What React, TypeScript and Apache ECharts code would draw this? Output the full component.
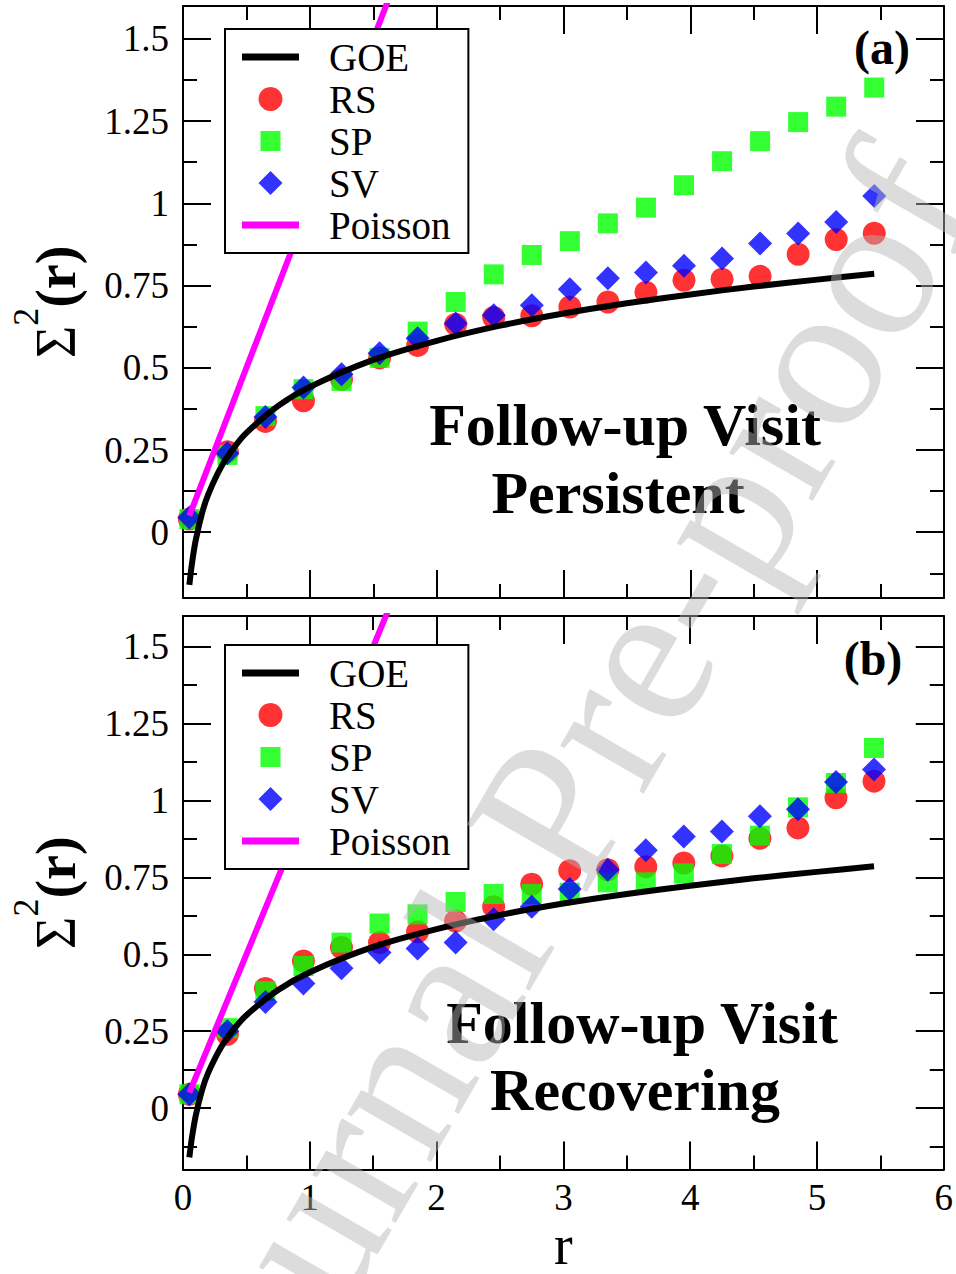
import React, { useEffect, useRef } from 'react';
import * as echarts from 'echarts';

const FONT = '"Liberation Serif", "Times New Roman", serif';

// r positions of the measured points
const rValues = [0.05, 0.35, 0.65, 0.95, 1.25, 1.55, 1.85, 2.15, 2.45, 2.75, 3.05, 3.35, 3.65, 3.95, 4.25, 4.55, 4.85, 5.15, 5.45];

// panel (a) Persistent
const rsPersistent = [0.04, 0.245, 0.337, 0.40, 0.465, 0.53, 0.568, 0.632, 0.653, 0.658, 0.685, 0.70, 0.73, 0.766, 0.769, 0.778, 0.845, 0.89, 0.909];
const spPersistent = [0.04, 0.235, 0.353, 0.435, 0.46, 0.53, 0.61, 0.70, 0.784, 0.843, 0.885, 0.939, 0.987, 1.055, 1.128, 1.189, 1.247, 1.294, 1.352];
const svPersistent = [0.045, 0.24, 0.35, 0.44, 0.48, 0.544, 0.59, 0.635, 0.66, 0.69, 0.739, 0.772, 0.79, 0.81, 0.832, 0.878, 0.908, 0.943, 1.022];

// panel (b) Recovering
const rsRecovering = [0.045, 0.24, 0.389, 0.478, 0.522, 0.538, 0.573, 0.608, 0.655, 0.728, 0.772, 0.775, 0.785, 0.797, 0.82, 0.877, 0.911, 1.009, 1.063];
const spRecovering = [0.045, 0.26, 0.38, 0.462, 0.538, 0.60, 0.63, 0.67, 0.696, 0.696, 0.70, 0.734, 0.734, 0.763, 0.826, 0.886, 0.978, 1.057, 1.171];
const svRecovering = [0.045, 0.25, 0.345, 0.405, 0.455, 0.506, 0.519, 0.538, 0.614, 0.655, 0.712, 0.775, 0.838, 0.883, 0.899, 0.949, 0.972, 1.06, 1.101];

// GOE reference curve
const goeR = [0.05, 0.07, 0.1, 0.15, 0.2, 0.3, 0.4, 0.5, 0.75, 1, 1.5, 2, 2.5, 3, 3.5, 4, 4.5, 5, 5.45];
const goeValues = [-0.16, -0.097, -0.025, 0.058, 0.116, 0.198, 0.256, 0.302, 0.384, 0.442, 0.524, 0.582, 0.628, 0.665, 0.696, 0.723, 0.747, 0.768, 0.786];

// Poisson reference line
const poissonR = [0.05, 1.8];
const poissonValues = [0.05, 1.8];

const yTickValues = [0, 0.25, 0.5, 0.75, 1, 1.25, 1.5];
const yMinorTickValues = [-0.125, 0.125, 0.375, 0.625, 0.875, 1.125, 1.375];
const legendNames = ['GOE', 'RS', 'SP', 'SV', 'Poisson'];
const panelLabels = ['(a)', '(b)'];
const panelTitles = [['Follow-up Visit', 'Persistent'], ['Follow-up Visit', 'Recovering']];

const LINE_ICON = 'path://M0,0h57v7h-57z';
const legendIcons: Record<string, string> = {
  GOE: LINE_ICON,
  RS: 'circle',
  SP: 'path://M0,0M24,24M2,2h20v20h-20z',
  SV: 'path://M12,0L24,12L12,24L0,12Z',
  Poisson: LINE_ICON,
};

const pairs = (xs: number[], ys: number[]) => xs.map((x, i) => [x, ys[i]]);

const lineStyleBlack = { color: '#000', width: 2 };

function buildXAxes(gridIndex: number, showLabels: boolean) {
  const base: any = {
    type: 'value',
    gridIndex,
    min: 0,
    max: 6,
    interval: 1,
    axisLine: { show: true, onZero: false, lineStyle: lineStyleBlack },
    axisTick: { show: true, inside: true, length: 28, lineStyle: lineStyleBlack },
    minorTick: { show: true, splitNumber: 2, length: 14, lineStyle: lineStyleBlack },
    splitLine: { show: false },
    minorSplitLine: { show: false },
  };
  return [
    {
      ...base,
      position: 'bottom',
      axisLabel: {
        show: showLabels,
        fontFamily: FONT,
        fontSize: 37,
        lineHeight: 30,
        color: '#000',
        margin: 13,
        showMinLabel: true,
        showMaxLabel: true,
      },
      name: showLabels ? 'r' : '',
      nameLocation: 'middle',
      nameGap: 46,
      nameTextStyle: { fontFamily: FONT, fontSize: 56, lineHeight: 34, color: '#000' },
    },
    { ...base, position: 'top', axisLabel: { show: false } },
  ];
}

function buildYAxes(gridIndex: number) {
  const base: any = {
    type: 'value',
    gridIndex,
    min: -0.2,
    max: 1.6,
    splitLine: { show: false },
  };
  const major = (position: string, labels: boolean) => ({
    ...base,
    position,
    axisLine: { show: true, onZero: false, lineStyle: lineStyleBlack },
    axisTick: { show: true, inside: true, length: 28, customValues: yTickValues, lineStyle: lineStyleBlack },
    axisLabel: {
      show: labels,
      customValues: yTickValues,
      fontFamily: FONT,
      fontSize: 37,
      color: '#000',
      margin: 14,
    },
  });
  const minor = (position: string) => ({
    ...base,
    position,
    axisLine: { show: false, onZero: false },
    axisTick: { show: true, inside: true, length: 14, customValues: yMinorTickValues, lineStyle: lineStyleBlack },
    axisLabel: { show: false, customValues: yMinorTickValues },
  });
  const left: any = major('left', true);
  left.name = '{s|Σ}{p|2}{r|(r)}';
  left.nameLocation = 'middle';
  left.nameRotate = 90;
  left.nameGap = 79;
  left.nameTextStyle = {
    rich: {
      s: { fontFamily: FONT, fontSize: 56, lineHeight: 96, color: '#000' },
      p: { fontFamily: FONT, fontSize: 36, lineHeight: 36, verticalAlign: 'top', color: '#000' },
      r: { fontFamily: FONT, fontSize: 56, fontWeight: 'bold', lineHeight: 96, color: '#000' },
    },
  };
  return [left, minor('left'), major('right', false), minor('right')];
}

function buildSeries(gi: number, rs: number[], sp: number[], sv: number[]) {
  const xAxisIndex = gi * 2;
  const yAxisIndex = gi * 4;
  return [
    {
      type: 'line', name: 'GOE', xAxisIndex, yAxisIndex,
      data: pairs(goeR, goeValues), symbol: 'none', smooth: 0.3,
      lineStyle: { color: '#000', width: 6 }, itemStyle: { color: '#000' },
    },
    {
      type: 'scatter', name: 'RS', xAxisIndex, yAxisIndex,
      data: pairs(rValues, rs), symbol: 'circle', symbolSize: 23,
      itemStyle: { color: '#ff0000' },
    },
    {
      type: 'scatter', name: 'SP', xAxisIndex, yAxisIndex,
      data: pairs(rValues, sp), symbol: 'rect', symbolSize: 20,
      itemStyle: { color: '#00ff00' },
    },
    {
      type: 'scatter', name: 'SV', xAxisIndex, yAxisIndex,
      data: pairs(rValues, sv), symbol: 'diamond', symbolSize: 24,
      itemStyle: { color: '#0000ff' },
    },
    {
      type: 'line', name: 'Poisson', xAxisIndex, yAxisIndex,
      data: pairs(poissonR, poissonValues), symbol: 'none',
      lineStyle: { color: '#ff00ff', width: 6 }, itemStyle: { color: '#ff00ff' },
    },
  ];
}

function buildLegend(top: number) {
  return {
    orient: 'vertical',
    left: 225,
    top,
    data: legendNames.map((name) => ({ name, icon: legendIcons[name] })),
    itemWidth: 57,
    itemHeight: 24,
    itemGap: 0,
    padding: [7, 18, 7, 17],
    borderColor: '#000',
    borderWidth: 2,
    backgroundColor: '#fff',
    selectedMode: false,
    itemStyle: { borderWidth: 0 },
    textStyle: { fontFamily: FONT, fontSize: 39, color: '#000', lineHeight: 42, padding: [0, 0, 0, 25] },
  };
}

function textEl(text: string, x: number, y: number, size: number, bold: boolean) {
  return {
    type: 'text',
    x,
    y,
    z: 50,
    silent: true,
    style: {
      text,
      fill: '#000',
      font: `${bold ? 'bold ' : ''}${size}px ${FONT}`,
      textAlign: 'center',
      textVerticalAlign: 'middle',
      align: 'center',
      verticalAlign: 'middle',
    },
  };
}

export default function App() {
  const ref = useRef<HTMLDivElement>(null);
  useEffect(() => {
    if (!ref.current) return;
    const chart = echarts.init(ref.current, null, { renderer: 'svg' });
    const option: any = {
      animation: false,
      backgroundColor: '#fff',
      grid: [
        { left: 182, top: 6, width: 762, height: 592 },
        { left: 182, top: 616, width: 762, height: 569 },
      ],
      xAxis: [...buildXAxes(0, false), ...buildXAxes(1, true)],
      yAxis: [...buildYAxes(0), ...buildYAxes(1)],
      legend: [buildLegend(29), buildLegend(645)],
      series: [
        ...buildSeries(0, rsPersistent, spPersistent, svPersistent),
        ...buildSeries(1, rsRecovering, spRecovering, svRecovering),
      ],
      graphic: {
        elements: [
          textEl(panelLabels[0], 882, 47, 48, true),
          textEl(panelLabels[1], 873, 658, 48, true),
          textEl(panelTitles[0][0], 625, 425, 60, true),
          textEl(panelTitles[0][1], 618, 493, 60, true),
          textEl(panelTitles[1][0], 642, 1023, 60, true),
          textEl(panelTitles[1][1], 635, 1090, 60, true),
          {
            type: 'text',
            x: 555,
            y: 805,
            rotation: Math.PI / 3,
            z: 100,
            silent: true,
            style: {
              text: 'Journal Pre-proof',
              fill: 'rgba(180,180,180,0.47)',
              font: `210px ${FONT}`,
              textAlign: 'center',
              textVerticalAlign: 'middle',
              align: 'center',
              verticalAlign: 'middle',
            },
          },
        ],
      },
    };
    chart.setOption(option);
    return () => chart.dispose();
  }, []);
  return (
    <div
      ref={ref}
      style={{ position: 'absolute', left: 0, top: 0, width: 956, height: 1274 }}
    />
  );
}
